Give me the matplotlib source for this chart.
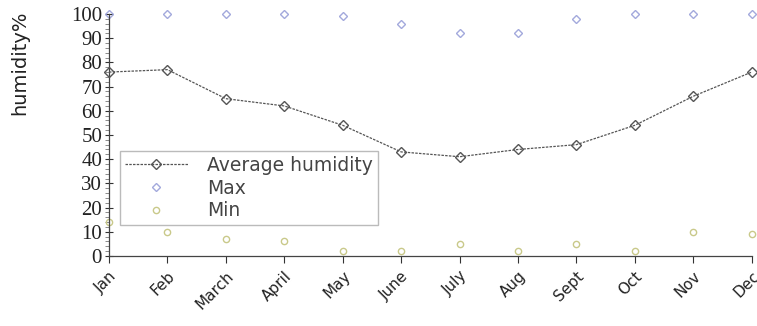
import matplotlib.pyplot as plt
from matplotlib.ticker import MultipleLocator

months = ["Jan", "Feb", "March", "April", "May", "June",
          "July", "Aug", "Sept", "Oct", "Nov", "Dec"]
avg_humidity = [76, 77, 65, 62, 54, 43, 41, 44, 46, 54, 66, 76]
max_humidity = [100, 100, 100, 100, 99, 96, 92, 92, 98, 100, 100, 100]
min_humidity = [14, 10, 7, 6, 2, 2, 5, 2, 5, 2, 10, 9]

fig = plt.figure(figsize=(7.57, 3.26), dpi=100)
ax = fig.add_axes([0.144, 0.215, 0.849, 0.742])
x = range(len(months))

ax.plot(x, avg_humidity, linestyle=(0, (2, 1)), color="#555555", linewidth=0.9,
        marker="D", markersize=5.5, markerfacecolor="none",
        markeredgecolor="#555555", markeredgewidth=1.0, label="Average humidity",
        clip_on=False, zorder=3)
ax.plot(x, max_humidity, linestyle="none", marker="D", markersize=4.5,
        markerfacecolor="none", markeredgecolor="#a3a9dc", markeredgewidth=1.0,
        label="Max", clip_on=False)
ax.plot(x, min_humidity, linestyle="none", marker="o", markersize=4.5,
        markerfacecolor="none", markeredgecolor="#c9c98a", markeredgewidth=1.0,
        label="Min", clip_on=False)

ax.set_xlim(0, 11)
ax.set_ylim(0, 100)
ax.set_xticks(list(x))
ax.set_xticklabels(months, rotation=45, ha="right", rotation_mode="anchor",
                   fontsize=11, color="#222222")
ax.yaxis.set_major_locator(MultipleLocator(10))
ax.yaxis.set_minor_locator(MultipleLocator(2))
for lbl in ax.get_yticklabels():
    lbl.set_family("Liberation Serif")
ax.tick_params(axis="y", labelsize=15, colors="#333333", direction="inout",
               length=6, width=0.8, labelcolor="#222222", pad=2)
ax.tick_params(axis="y", which="minor", direction="out", length=3, width=0.6,
               colors="#777777")
ax.tick_params(axis="x", direction="out", length=5, width=0.8, colors="#333333",
               labelcolor="#222222", pad=4)
ax.set_ylabel("humidity%", fontsize=14, color="#222222")
ax.yaxis.set_label_coords(-0.124, 0.8)

for side in ("top", "right"):
    ax.spines[side].set_visible(False)
for side in ("left", "bottom"):
    ax.spines[side].set_color("#444444")
    ax.spines[side].set_linewidth(0.9)

leg = ax.legend(loc="lower left", bbox_to_anchor=(0.017, 0.128), fontsize=13.5,
                frameon=True, fancybox=False, edgecolor="#aaaaaa",
                handlelength=3.4, borderpad=0.25, labelspacing=0.2,
                handletextpad=1.0, borderaxespad=0)
for t in leg.get_texts():
    t.set_color("#444444")

fig.savefig("out.png", dpi=100)
